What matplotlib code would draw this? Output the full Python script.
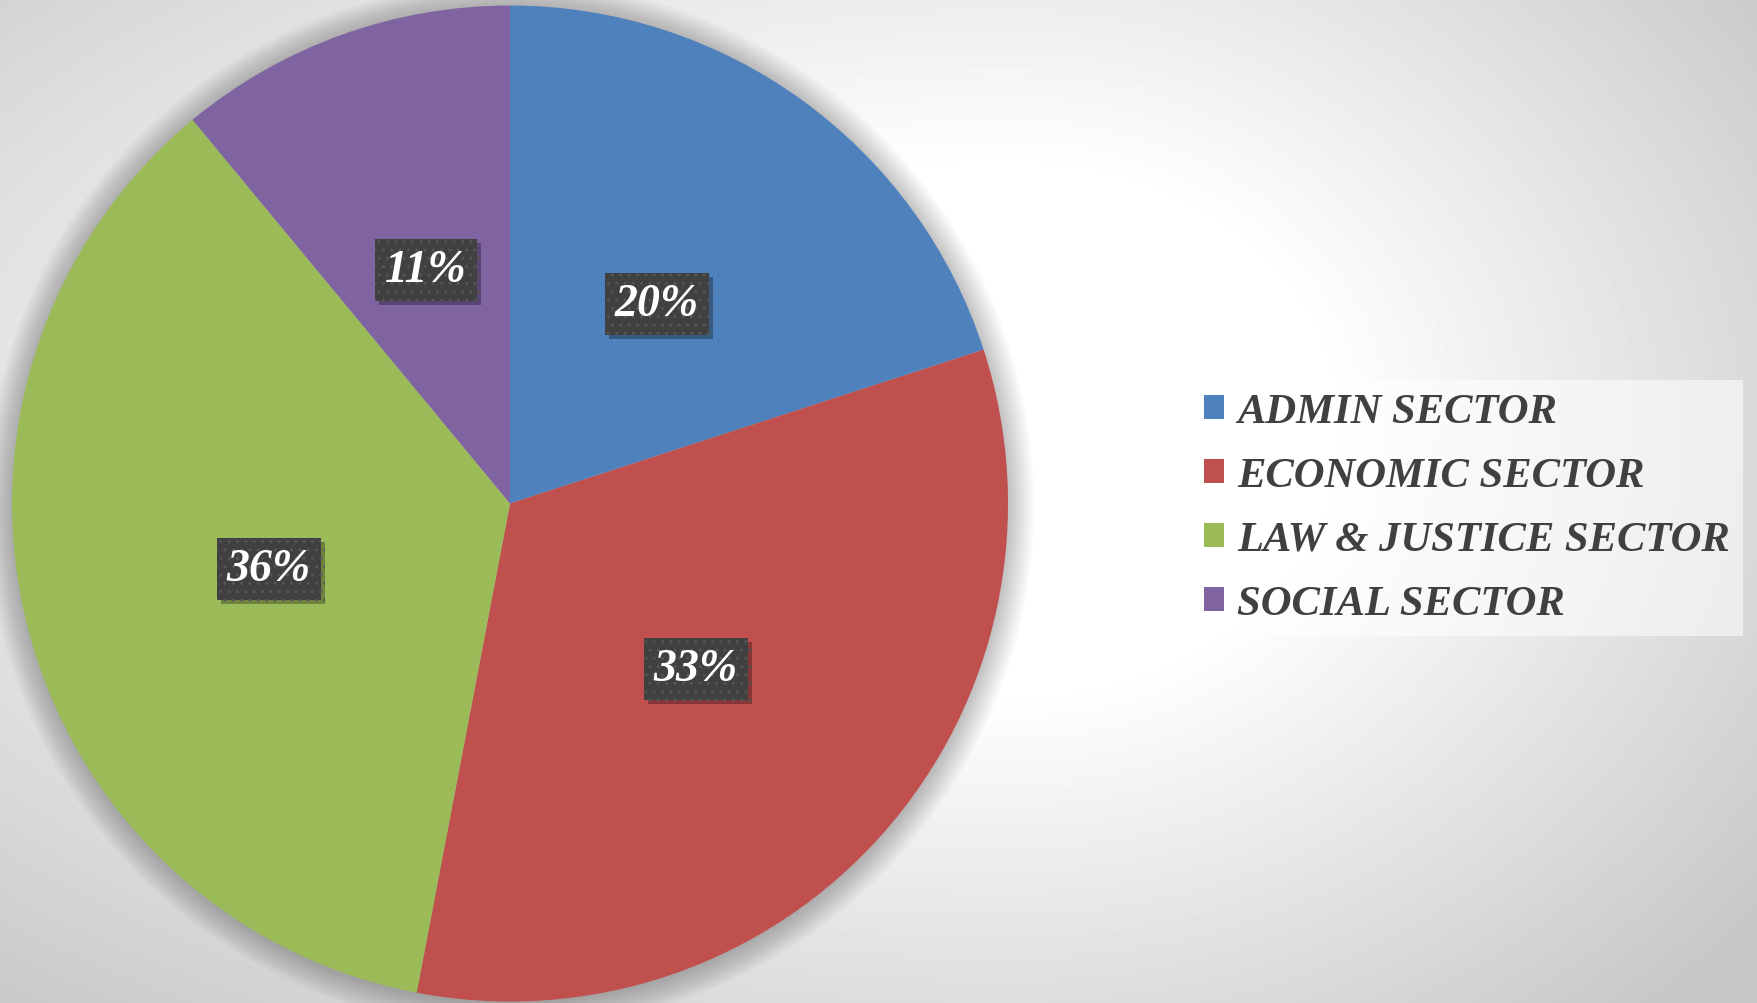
import numpy as np
import matplotlib
matplotlib.use("Agg")
import matplotlib.pyplot as plt
import matplotlib.patheffects as pe
from matplotlib.patches import Circle

# Data
sectors = ["ADMIN SECTOR", "ECONOMIC SECTOR", "LAW & JUSTICE SECTOR", "SOCIAL SECTOR"]
shares = [20, 33, 36, 11]
colors = ["#4F81BD", "#C0504D", "#9BBB59", "#8064A2"]
# label centres in pie units (Excel nudges them off the mid-angle)
label_pos = [(0.295, 0.401), (0.373, -0.332), (-0.484, -0.132), (-0.169, 0.469)]

W, H = 1758, 1004
fig = plt.figure(figsize=(W / 100, H / 100), dpi=100)

# radial grey background
bg = fig.add_axes([0, 0, 1, 1], zorder=-5)
yy, xx = np.mgrid[0:H, 0:W]
cx0, cy0 = 1010, 430
rx = np.where(xx < cx0, 1300, 800)
d = np.hypot((xx - cx0) / rx, (yy - cy0) / 650)
grey = 1 - 0.22 * np.clip((d - 0.4) / 0.8, 0, 1)
bg.imshow(grey, cmap="gray", vmin=0, vmax=1, extent=(0, W, H, 0), aspect="auto")
bg.axis("off")

# pie axes placed on the pixel geometry of the reference
cx, cy, r = 510, 504.5, 498
ax = fig.add_axes([(cx - r) / W, (H - cy - r) / H, 2 * r / W, 2 * r / H])

# soft shadow around the pie
for i in range(16):
    ax.add_patch(Circle((0, -0.004), 1 + i * 0.0035, color="black", alpha=0.014,
                        lw=0, zorder=0, clip_on=False))

wedges, texts, autotexts = ax.pie(
    shares, colors=colors, startangle=90, counterclock=False,
    autopct="%1.0f%%", pctdistance=0.5,
    wedgeprops=dict(linewidth=0),
    textprops=dict(color="white", fontsize=33, family="Liberation Serif",
                   weight="bold", style="italic"))
for w in wedges:
    w.set_zorder(2)

for t, pos in zip(autotexts, label_pos):
    t.set_position(pos)
    t.set_zorder(5)
    t.set_bbox(dict(boxstyle="square,pad=0.22", facecolor="#404040",
                    edgecolor="#555555", linewidth=0, hatch=".."))
    t.get_bbox_patch().set_path_effects(
        [pe.withSimplePatchShadow(offset=(3, -3), shadow_rgbFace="black", alpha=0.3)])

ax.set_xlim(-1, 1)
ax.set_ylim(-1, 1)
ax.set_aspect("equal")
ax.axis("off")

leg = fig.legend(
    wedges, sectors, loc="upper left",
    bbox_to_anchor=(1191 / W, 1 - 381 / H), borderaxespad=0,
    prop=dict(family="Liberation Serif", weight="bold", style="italic", size=30.7),
    labelcolor="#404040", frameon=True, fancybox=False,
    handlelength=0.48, handleheight=0.48, handletextpad=0.3,
    labelspacing=0.61, borderpad=0.3)
frame = leg.get_frame()
frame.set_facecolor("white")
frame.set_alpha(0.55)
frame.set_linewidth(0)

fig.savefig("out.png", dpi=100)
